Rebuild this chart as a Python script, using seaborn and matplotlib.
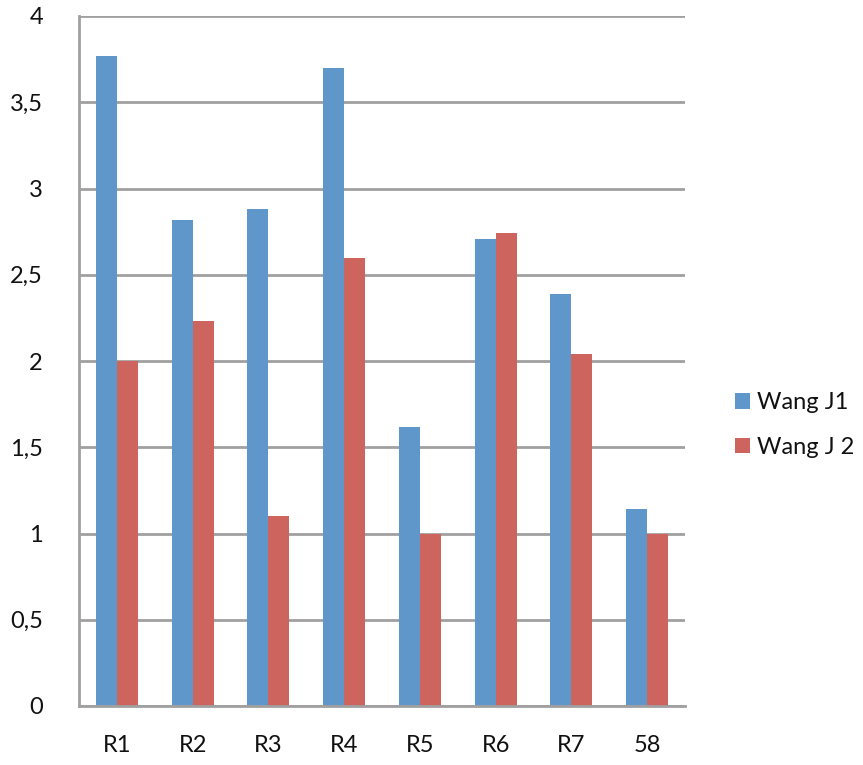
import matplotlib
matplotlib.use("Agg")
import matplotlib.pyplot as plt
from matplotlib.patches import Patch
from matplotlib.ticker import FuncFormatter, FixedLocator
import seaborn as sns
import pandas as pd

categories = ["R1", "R2", "R3", "R4", "R5", "R6", "R7", "58"]
wang_j1 = [3.77, 2.82, 2.88, 3.70, 1.62, 2.71, 2.39, 1.14]
wang_j2 = [2.00, 2.23, 1.10, 2.60, 1.00, 2.74, 2.04, 1.00]
series_names = ["Wang J1", "Wang J 2"]
y_ticks = [0, 0.5, 1, 1.5, 2, 2.5, 3, 3.5, 4]

df = pd.DataFrame({
    "category": categories * 2,
    "value": wang_j1 + wang_j2,
    "series": [series_names[0]] * len(categories) + [series_names[1]] * len(categories),
})

sns.set_theme(style="white")
plt.rcParams["font.family"] = ["Lato", "DejaVu Sans"]

blue = "#6097CB"
red = "#CD645E"
grid_c = "#A0A0A0"
text_c = "#111111"
fs = 17

fig = plt.figure(figsize=(8.63, 7.65), dpi=100)
ax = fig.add_axes([79 / 863, 59 / 765, 606 / 863, 690 / 765])

sns.barplot(data=df, x="category", y="value", hue="series", order=categories,
            hue_order=series_names, palette=[blue, red], width=0.555, gap=0,
            saturation=1, linewidth=0, legend=False, ax=ax)

ax.set_xlim(-0.5, len(categories) - 0.5)
ax.set_ylim(0, 4)
ax.set_xlabel("")
ax.set_ylabel("")

ax.set_yticks(y_ticks)
ax.yaxis.set_major_formatter(FuncFormatter(lambda v, p: f"{v:g}".replace(".", ",")))
ax.yaxis.grid(True, color=grid_c, linewidth=2)
ax.set_axisbelow(True)

ax.xaxis.set_minor_locator(FixedLocator([i - 0.5 for i in range(len(categories) + 1)]))
ax.tick_params(axis="x", which="major", length=0, pad=21, labelsize=fs, labelcolor=text_c)
ax.tick_params(axis="x", which="minor", length=8, width=2, color=grid_c, direction="out")
ax.tick_params(axis="y", which="major", length=8, width=2, color=grid_c, direction="out",
               pad=18, labelsize=fs, labelcolor=text_c)

for side in ["top", "right"]:
    ax.spines[side].set_visible(False)
for side in ["left", "bottom"]:
    ax.spines[side].set_color(grid_c)
    ax.spines[side].set_linewidth(2)

handles = [Patch(facecolor=blue, edgecolor="none"), Patch(facecolor=red, edgecolor="none")]
fig.legend(handles, series_names, loc="center left", bbox_to_anchor=(718 / 863, 1 - 425 / 765),
           frameon=False, fontsize=fs, handlelength=0.65, handleheight=0.65,
           handletextpad=0.3, labelspacing=1.0, labelcolor=text_c, borderpad=0.2)

fig.savefig("out.png", dpi=100)
